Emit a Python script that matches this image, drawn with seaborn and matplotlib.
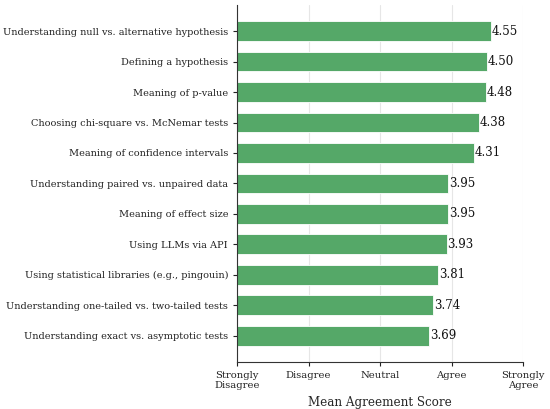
import matplotlib
matplotlib.use("Agg")
import matplotlib.pyplot as plt
import seaborn as sns
import pandas as pd

# --- 資料 ---
topics = [
    "Understanding null vs. alternative hypothesis",
    "Defining a hypothesis",
    "Meaning of p-value",
    "Choosing chi-square vs. McNemar tests",
    "Meaning of confidence intervals",
    "Understanding paired vs. unpaired data",
    "Meaning of effect size",
    "Using LLMs via API",
    "Using statistical libraries (e.g., pingouin)",
    "Understanding one-tailed vs. two-tailed tests",
    "Understanding exact vs. asymptotic tests",
]
scores = [4.55, 4.50, 4.48, 4.38, 4.31, 3.95, 3.95, 3.93, 3.81, 3.74, 3.69]
likert_ticks = [1, 2, 3, 4, 5]
likert_labels = ["Strongly\nDisagree", "Disagree", "Neutral", "Agree", "Strongly\nAgree"]

df = pd.DataFrame({"topic": topics, "score": scores})

sns.set_theme(style="whitegrid")
plt.rcParams["font.family"] = ["DejaVu Serif"]

fig, ax = plt.subplots(figsize=(5.5, 4.09), dpi=100)
sns.barplot(data=df, x="score", y="topic", color="#55A868", saturation=1,
            width=0.65, edgecolor="white", linewidth=0.6, ax=ax)

# 數值標籤
for i, v in enumerate(scores):
    ax.text(v + 0.01, i, f"{v:.2f}", va="center", ha="left", fontsize=8.5, color="#111111")

ax.set_xlim(1, 5)
ax.set_ylim(10.86, -0.86)
ax.set_xticks(likert_ticks)
ax.set_xticklabels(likert_labels)
ax.set_xlabel("Mean Agreement Score", fontsize=8.6)
ax.set_ylabel("")
ax.tick_params(axis="both", labelsize=7.05, colors="#222222", length=3, width=0.8,
               left=True, bottom=True)
ax.tick_params(axis="x", labelsize=7.2)
ax.grid(axis="y", visible=False)
ax.grid(axis="x", color="#e6e6e6", linewidth=0.8)
for s in ["top", "right"]:
    ax.spines[s].set_visible(False)
for s in ["left", "bottom"]:
    ax.spines[s].set_color("#333333")
    ax.spines[s].set_linewidth(0.8)

fig.subplots_adjust(left=0.431, right=0.951, top=0.988, bottom=0.115)
fig.savefig("out.png", dpi=100)
